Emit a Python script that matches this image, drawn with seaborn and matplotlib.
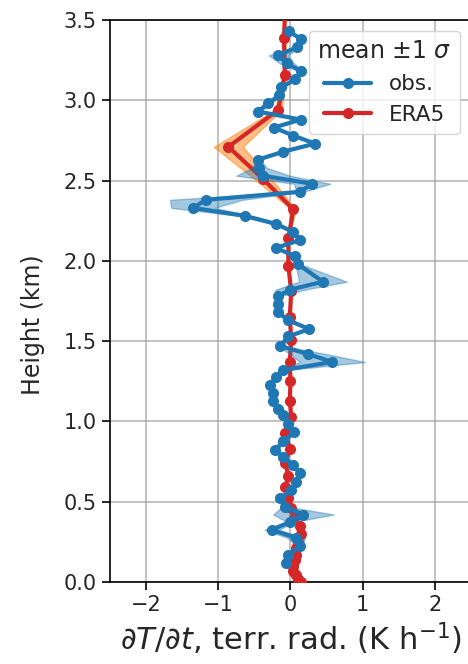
import matplotlib
matplotlib.use("Agg")
import matplotlib.pyplot as plt
import seaborn as sns
import numpy as np
import pandas as pd

# ---- observations (height km, mean, std) ----
obs_h = [3.43, 3.38, 3.33, 3.28, 3.23, 3.18, 3.13, 3.08, 3.03, 2.98, 2.93, 2.88,
         2.83, 2.78, 2.73, 2.68, 2.63, 2.58, 2.53, 2.48, 2.43, 2.38, 2.33, 2.28,
         2.23, 2.18, 2.13, 2.08, 2.03, 1.98, 1.87, 1.82, 1.78, 1.73, 1.68, 1.63,
         1.575, 1.53, 1.47, 1.42, 1.37, 1.32, 1.275, 1.225, 1.18, 1.13, 1.08,
         1.04, 0.985, 0.935, 0.875, 0.82, 0.78, 0.73, 0.68, 0.625, 0.57, 0.52,
         0.47, 0.42, 0.375, 0.325, 0.275, 0.225, 0.17, 0.12]
obs_mean = [-0.02, 0.15, 0.09, -0.17, -0.05, 0.15, 0.06, -0.13, -0.16, -0.31, -0.45, 0.14,
            -0.23, 0.04, 0.34, -0.10, -0.45, -0.43, -0.38, 0.30, 0.13, -1.17, -1.35, -0.63,
            -0.20, 0.04, 0.13, -0.20, 0.06, 0.10, 0.45, -0.01, -0.17, -0.17, -0.17, -0.03,
            0.26, -0.03, -0.14, 0.24, 0.58, -0.10, -0.20, -0.29, -0.24, -0.24, -0.17,
            -0.10, -0.03, 0.05, -0.10, -0.22, -0.10, 0.03, 0.13, 0.08, 0.01, -0.15,
            -0.08, 0.18, 0.00, -0.26, 0.08, 0.13, -0.03, -0.06]
obs_std = [0.02, 0.05, 0.05, 0.13, 0.10, 0.03, 0.03, 0.03, 0.03, 0.04, 0.03, 0.03,
           0.03, 0.03, 0.03, 0.03, 0.03, 0.10, 0.37, 0.25, 0.05, 0.50, 0.30, 0.08,
           0.05, 0.03, 0.03, 0.03, 0.03, 0.03, 0.33, 0.20, 0.03, 0.03, 0.03, 0.03,
           0.03, 0.03, 0.03, 0.25, 0.45, 0.05, 0.03, 0.03, 0.03, 0.03, 0.03,
           0.03, 0.03, 0.03, 0.03, 0.03, 0.03, 0.03, 0.03, 0.03, 0.03, 0.03,
           0.03, 0.42, 0.05, 0.10, 0.12, 0.03, 0.03, 0.03]

# ---- ERA5 (height km, mean, std) ----
era_h = [3.62, 3.39, 3.16, 2.94, 2.71, 2.51, 2.32, 2.14, 1.97, 1.81, 1.65, 1.51,
         1.37, 1.25, 1.13, 1.03, 0.93, 0.83, 0.74, 0.66, 0.59, 0.52, 0.46, 0.40,
         0.35, 0.30, 0.25, 0.21, 0.17, 0.135, 0.10, 0.07, 0.045, 0.02, 0.0]
era_mean = [-0.07, -0.09, -0.08, -0.17, -0.86, -0.38, 0.04, -0.03, -0.03, 0.01, -0.01, 0.01,
            -0.01, 0.00, -0.01, 0.01, -0.07, -0.01, -0.07, -0.03, -0.07, -0.03, 0.01, 0.05,
            0.13, 0.15, 0.11, 0.08, 0.07, 0.06, 0.04, 0.04, 0.07, 0.11, 0.15]
era_std = [0.01, 0.02, 0.02, 0.05, 0.20, 0.12, 0.03, 0.01, 0.01, 0.01, 0.01, 0.01,
           0.01, 0.01, 0.01, 0.01, 0.01, 0.01, 0.01, 0.01, 0.01, 0.01, 0.01, 0.01,
           0.01, 0.01, 0.01, 0.01, 0.01, 0.01, 0.01, 0.01, 0.01, 0.01, 0.01]

x_ticks = [-2, -1, 0, 1, 2]
y_ticks = [0.0, 0.5, 1.0, 1.5, 2.0, 2.5, 3.0, 3.5]

obs = pd.DataFrame({"h": obs_h, "m": obs_mean, "s": obs_std})
era = pd.DataFrame({"h": era_h, "m": era_mean, "s": era_std})

sns.set_style("ticks")
plt.rcParams["font.family"] = ["DejaVu Sans"]
plt.rcParams["mathtext.fontset"] = "dejavusans"

fig = plt.figure(figsize=(4.68, 6.64), dpi=100)
ax = fig.add_axes([0.235, 0.1235, 0.7714, 0.8464])

c_obs = "#1f77b4"
c_era = "#d62728"

ax.fill_betweenx(era["h"], era["m"] - era["s"], era["m"] + era["s"],
                 color="#ff7f0e", alpha=0.5, lw=1, zorder=2)
sns.lineplot(data=era, x="m", y="h", orient="y", sort=False, ax=ax,
             color=c_era, marker="o", markersize=8, markeredgewidth=0,
             linewidth=3, label="ERA5", zorder=3)
ax.fill_betweenx(obs["h"], obs["m"] - obs["s"], obs["m"] + obs["s"],
                 color=c_obs, alpha=0.4, lw=1, zorder=4)
sns.lineplot(data=obs, x="m", y="h", orient="y", sort=False, ax=ax,
             color=c_obs, marker="o", markersize=8, markeredgewidth=0,
             linewidth=3, label="obs.", zorder=5)

ax.set_xlim(-2.5, 2.5)
ax.set_ylim(0, 3.5)
ax.set_xticks(x_ticks)
ax.set_yticks(y_ticks)
ax.set_yticklabels([f"{v:.1f}" for v in y_ticks])
ax.grid(True, color="0.6", lw=1.4, alpha=0.6, zorder=0)
ax.set_axisbelow(True)
for sp in ax.spines.values():
    sp.set_visible(True)
    sp.set_color("black")
    sp.set_linewidth(1.2)
ax.tick_params(labelsize=15, length=6, width=1.2, color="black")

ax.set_xlabel(r"$\partial T/\partial t$, terr. rad. (K h$^{-1}$)", fontsize=22)
ax.set_ylabel("Height (km)", fontsize=17)
ax.yaxis.set_label_coords(-0.18, 0.457)

handles, labels = ax.get_legend_handles_labels()
order = [labels.index("obs."), labels.index("ERA5")]
leg = ax.legend([handles[i] for i in order], [labels[i] for i in order],
                title=r"mean $\pm$1 $\sigma$", loc="upper right",
                fontsize=15.5, title_fontsize=17, handlelength=2.2)

fig.savefig("out.png", dpi=100)
